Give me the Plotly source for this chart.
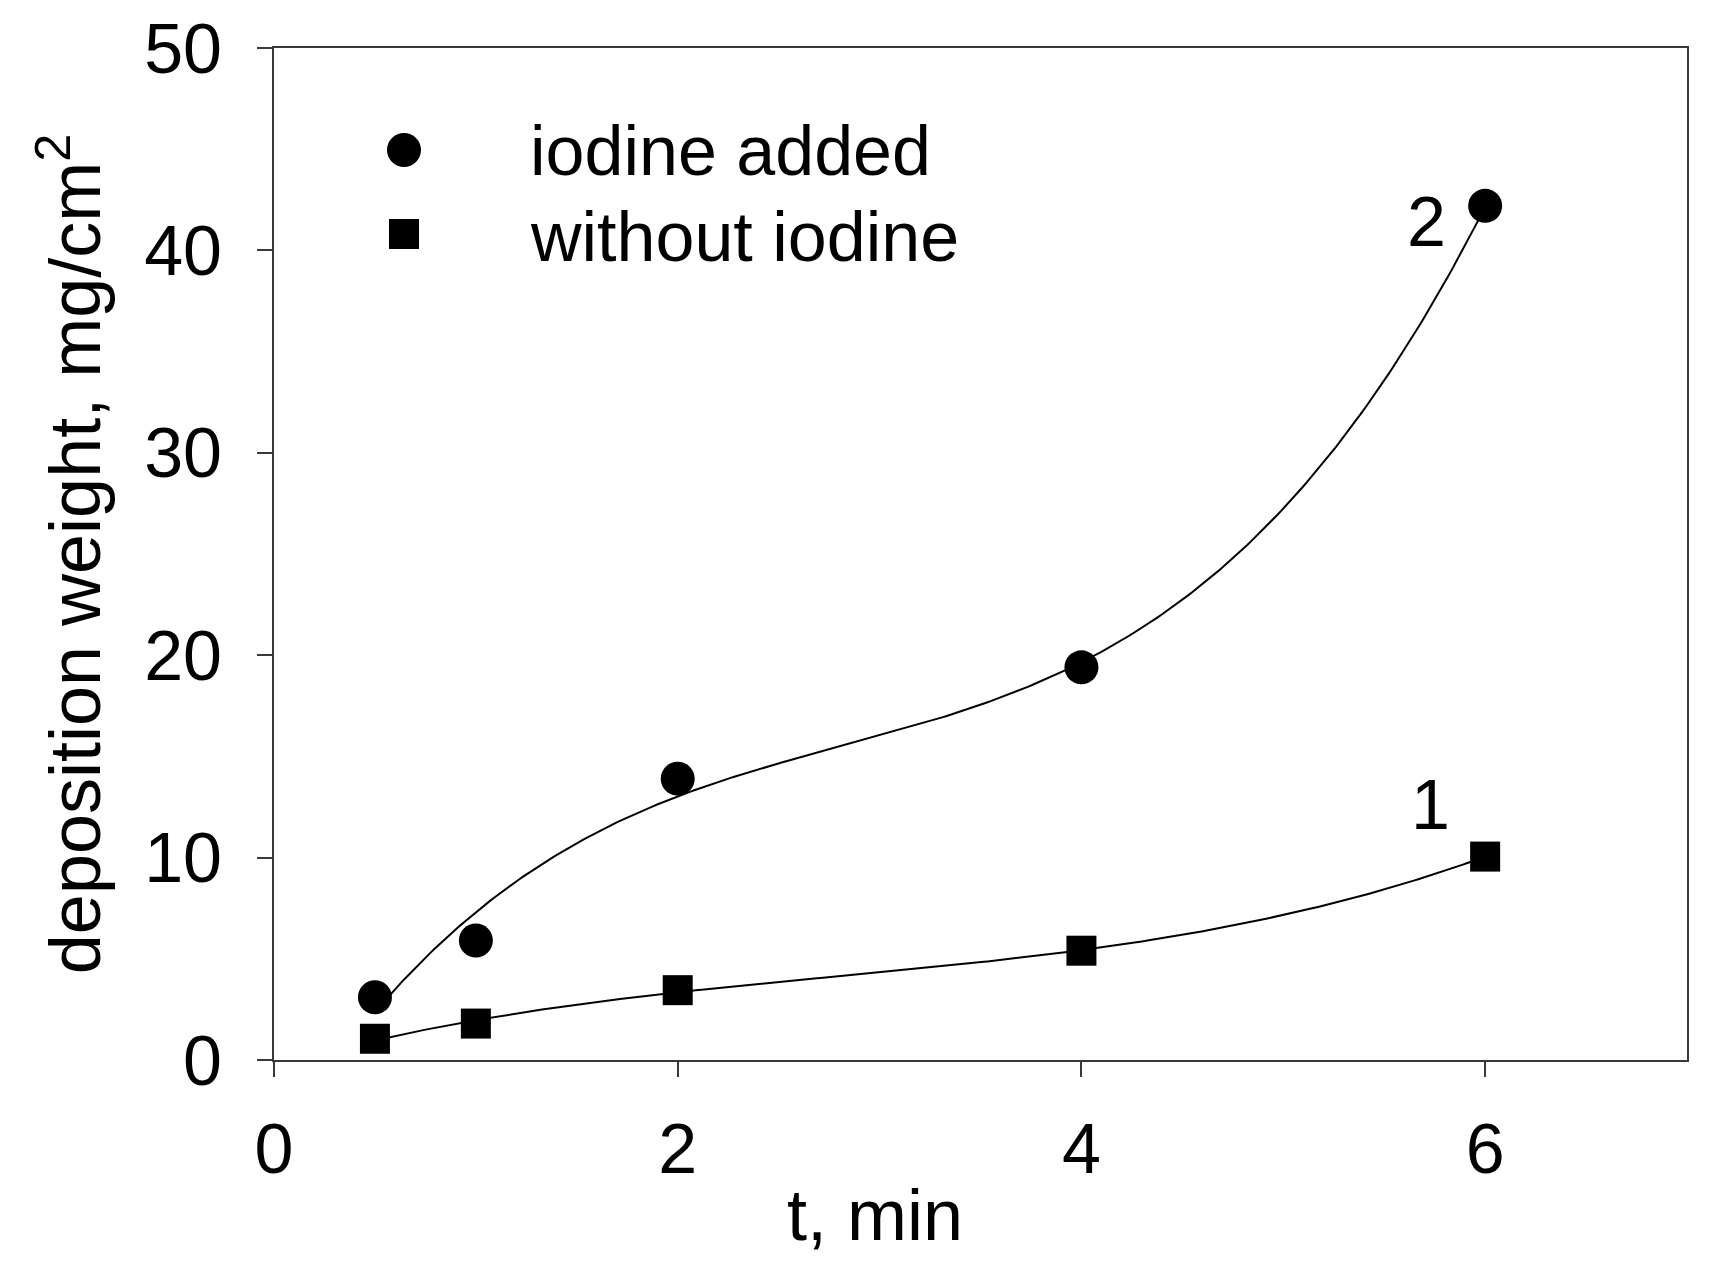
import numpy as np
import plotly.graph_objects as go

# Data
t_min = [0.5, 1, 2, 4, 6]
iodine_added = [3.1, 5.9, 13.9, 19.4, 42.2]
without_iodine = [1.05, 1.8, 3.45, 5.4, 10.05]

x_ticks = [0, 2, 4, 6]
y_ticks = [0, 10, 20, 30, 40, 50]

series_names = ["iodine added", "without iodine"]
curve_labels = ["2", "1"]

FONT = "Liberation Sans, Arial, sans-serif"
FS = 70
INK = "#000000"
AX = "#3a3a3a"


def cubic_fit(x, y):
    """Cubic regression line through the measured points (as in the original)."""
    c = np.polyfit(x, y, 3)
    xs = np.linspace(min(x), max(x), 300)
    return xs, np.polyval(c, xs)


fig = go.Figure()

xs2, ys2 = cubic_fit(t_min, iodine_added)
xs1, ys1 = cubic_fit(t_min, without_iodine)

fig.add_trace(go.Scatter(x=xs2, y=ys2, mode="lines", line=dict(color=INK, width=2),
                         showlegend=False, hoverinfo="skip"))
fig.add_trace(go.Scatter(x=xs1, y=ys1, mode="lines", line=dict(color=INK, width=2),
                         showlegend=False, hoverinfo="skip"))

fig.add_trace(go.Scatter(x=t_min, y=iodine_added, mode="markers", name=series_names[0],
                         marker=dict(symbol="circle", size=34, color=INK), showlegend=False))
fig.add_trace(go.Scatter(x=t_min, y=without_iodine, mode="markers", name=series_names[1],
                         marker=dict(symbol="square", size=30, color=INK), showlegend=False))

# curve labels
fig.add_annotation(x=5.71, y=41.4, text=curve_labels[0], showarrow=False,
                   font=dict(family=FONT, size=FS, color=INK))
fig.add_annotation(x=5.73, y=12.6, text=curve_labels[1], showarrow=False,
                   font=dict(family=FONT, size=FS, color=INK))

# legend (key symbols + texts), placed in paper coordinates
leg_sym_x = 0.092
leg_rows_y = [0.8992, 0.8162]
leg_text_y = [0.8982, 0.8132]
fig.add_shape(type="circle", xref="paper", yref="paper", xsizemode="pixel", ysizemode="pixel",
              xanchor=leg_sym_x, yanchor=leg_rows_y[0], x0=-17, x1=17, y0=-17, y1=17,
              fillcolor=INK, line=dict(width=0))
fig.add_shape(type="rect", xref="paper", yref="paper", xsizemode="pixel", ysizemode="pixel",
              xanchor=leg_sym_x, yanchor=leg_rows_y[1], x0=-15, x1=15, y0=-15, y1=15,
              fillcolor=INK, line=dict(width=0))
for name, ty in zip(series_names, leg_text_y):
    fig.add_annotation(x=0.1798, y=ty, xref="paper", yref="paper", text=name,
                       showarrow=False, xanchor="left", yanchor="middle",
                       font=dict(family=FONT, size=FS, color=INK))

# x-axis title
fig.add_annotation(x=0.425, y=0, xref="paper", yref="paper", yshift=-113,
                   text="t, min", showarrow=False, xanchor="center", yanchor="top",
                   font=dict(family=FONT, size=72, color=INK))

fig.update_layout(
    width=1705, height=1261,
    margin=dict(l=266, r=26, t=40, b=209, autoexpand=False),
    paper_bgcolor="white", plot_bgcolor="white",
    font=dict(family=FONT, size=FS, color=INK),
    showlegend=False,
    xaxis=dict(range=[0, 7], tickvals=x_ticks, ticks="outside", ticklen=15,
               tickwidth=2, tickcolor=AX, showline=True, linecolor=AX, linewidth=2,
               mirror=True, showgrid=False, zeroline=False, ticklabelstandoff=12,
               tickfont=dict(family=FONT, size=FS, color=INK)),
    yaxis=dict(range=[0, 50], tickvals=y_ticks, ticks="outside", ticklen=15,
               tickwidth=2, tickcolor=AX, showline=True, linecolor=AX, linewidth=2,
               mirror=True, showgrid=False, zeroline=False, ticklabelstandoff=21,
               tickfont=dict(family=FONT, size=FS, color=INK),
               title=dict(text="deposition weight, mg/cm<sup>2</sup>",
                          font=dict(family=FONT, size=72, color=INK), standoff=20)),
)

fig.write_html("out.html")
